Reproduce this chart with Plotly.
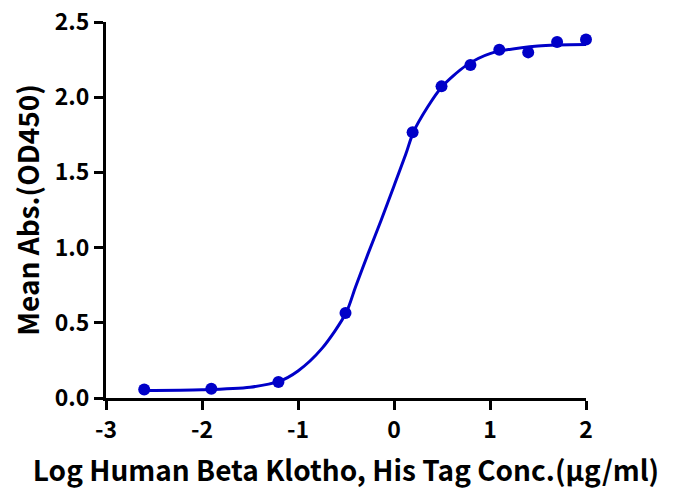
import plotly.graph_objects as go

# measured points (log concentration, mean OD450)
log_conc = [2.0, 1.699, 1.398, 1.097, 0.796, 0.495, 0.194, -0.505, -1.204, -1.903, -2.602]
mean_abs = [2.383, 2.367, 2.298, 2.316, 2.214, 2.072, 1.767, 0.565, 0.106, 0.062, 0.056]

# fitted curve
fit_x = [-2.6, -2.0, -1.5, -1.2, -1.0, -0.75, -0.5, -0.4, -0.27, -0.135, 0.0,
         0.125, 0.2, 0.35, 0.5, 0.75, 1.0, 1.5, 2.0]
fit_y = [0.050, 0.055, 0.072, 0.11, 0.18, 0.33, 0.565, 0.74, 0.96, 1.18, 1.41,
         1.625, 1.765, 1.935, 2.07, 2.21, 2.29, 2.34, 2.35]

x_ticks = [-3, -2, -1, 0, 1, 2]
y_ticks = [0.0, 0.5, 1.0, 1.5, 2.0, 2.5]

blue = "rgb(0,0,200)"
font_family = "Noto Sans CJK SC"

fig = go.Figure()
fig.add_trace(go.Scatter(
    x=fit_x, y=fit_y, mode="lines",
    line=dict(color=blue, width=3, shape="spline", smoothing=0.8),
    hoverinfo="skip", showlegend=False,
))
fig.add_trace(go.Scatter(
    x=log_conc, y=mean_abs, mode="markers",
    marker=dict(color=blue, size=12),
    cliponaxis=False, showlegend=False,
))

axis_style = dict(
    showline=True, linecolor="black", linewidth=3,
    ticks="outside", ticklen=9, tickwidth=3, tickcolor="black",
    showgrid=False, zeroline=False, automargin=False,
    ticklabeloverflow="allow",
    tickfont=dict(family=font_family, size=23, color="black", weight="bold"),
)

fig.update_layout(
    width=673, height=495,
    margin=dict(l=106, r=87, t=22, b=97),
    plot_bgcolor="white", paper_bgcolor="white",
    xaxis=dict(
        range=[-3, 2], tickvals=x_ticks, ticktext=[str(v) for v in x_ticks],
        title=dict(text="Log Human Beta Klotho, His Tag Conc.(µg/ml)", standoff=18,
                   font=dict(family=font_family, size=28, color="black", weight="bold")),
        **axis_style,
    ),
    yaxis=dict(
        range=[0, 2.5], tickvals=y_ticks, ticktext=[f"{v:.1f}" for v in y_ticks],
        title=dict(text="Mean Abs.(OD450)", standoff=7,
                   font=dict(family=font_family, size=28, color="black", weight="bold")),
        **axis_style,
    ),
)

# drop the default body margin so the figure fills the window exactly
fig.write_html(
    "out.html",
    config={"displayModeBar": False},
    post_script="document.body.style.margin = '0px';",
)
